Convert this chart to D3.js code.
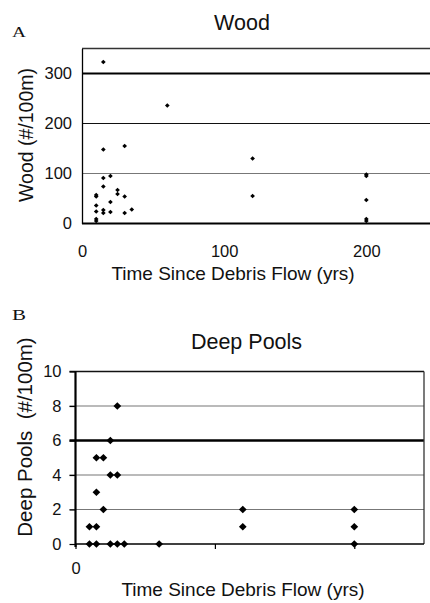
<!DOCTYPE html>
<html>
<head>
<meta charset="utf-8">
<script src="https://cdn.jsdelivr.net/npm/d3@7"></script>
<style>
  html, body { margin: 0; padding: 0; background: #fff; }
  svg { display: block; font-family: "Liberation Sans", Arial, sans-serif; }
</style>
</head>
<body>
<svg id="chart" width="430" height="603"></svg>
<script>
// ---- Panel A: Wood ----
const woodYears  = [15, 60, 15, 30, 120, 15, 20, 200, 200, 15, 10, 10, 25, 25, 30, 120, 200, 20, 10, 10, 15, 15, 20, 30, 35, 10, 10, 200, 200];
const woodCounts = [323, 236, 148, 155, 130, 91, 95, 98, 95, 74, 57, 54, 67, 59, 54, 55, 47, 43, 36, 24, 27, 21, 23, 21, 28, 9, 5, 9, 5];
const woodYTicks = [0, 100, 200, 300];
const woodXTicks = [0, 100, 200];

// ---- Panel B: Deep Pools ----
const poolYears  = [10, 15, 10, 15, 25, 30, 35, 60, 15, 15, 20, 20, 25, 25, 30, 30, 120, 120, 200, 200, 200];
const poolCounts = [1, 1, 0, 0, 0, 0, 0, 0, 3, 5, 5, 2, 6, 4, 4, 8, 2, 1, 2, 1, 0];
const poolYTicks = [0, 2, 4, 6, 8, 10];
const poolXTicks = [0, 100, 200];
const poolXLabels = ["0"];

const svg = d3.select("#chart");

function diamond(size) {
  return d3.symbol().type(d3.symbolSquare).size(size)();
}

// ===== Panel A =====
{
  const x = d3.scaleLinear().domain([0, 250]).range([82, 437.4]);
  const y = d3.scaleLinear().domain([0, 350]).range([223.5, 48.5]);
  const g = svg.append("g");

  const gridStyle = {100: ["#777", 1], 200: ["#111", 1.2], 300: ["#000", 2.2]};
  woodYTicks.filter(v => v > 0).forEach(v => {
    g.append("line").attr("x1", x(0)).attr("x2", 430)
      .attr("y1", y(v)).attr("y2", y(v))
      .attr("stroke", gridStyle[v][0]).attr("stroke-width", gridStyle[v][1]);
  });
  g.append("line").attr("x1", x(0)).attr("x2", 430)
    .attr("y1", y(350)).attr("y2", y(350))
    .attr("stroke", "#333").attr("stroke-width", 1.6);

  const yAxis = d3.axisLeft(y).tickValues(woodYTicks).tickSize(0).tickPadding(10);
  const ya = g.append("g").attr("transform", `translate(${x(0)},0)`).call(yAxis);
  ya.select(".domain").attr("stroke", "#000").attr("stroke-width", 1.3);
  ya.selectAll("text").attr("font-size", "16.5px").attr("fill", "#111")
    .attr("font-family", "Liberation Sans, Arial, sans-serif");

  const xAxis = d3.axisBottom(x).tickValues(woodXTicks).tickSize(0).tickPadding(22);
  const xa = g.append("g").attr("transform", `translate(0,${y(0)})`).call(xAxis);
  xa.select(".domain").remove();
  g.append("line").attr("x1", x(0)).attr("x2", 430)
    .attr("y1", y(0)).attr("y2", y(0))
    .attr("stroke", "#000").attr("stroke-width", 1.8);
  xa.selectAll("text").attr("font-size", "16.5px").attr("fill", "#111")
    .attr("font-family", "Liberation Sans, Arial, sans-serif");

  g.append("g").selectAll("path")
    .data(woodYears.map((d, i) => [d, woodCounts[i]]))
    .join("path")
    .attr("d", diamond(11))
    .attr("transform", d => `translate(${x(d[0])},${y(d[1])}) rotate(45)`)
    .attr("fill", "#000");

  svg.append("text").attr("x", 242).attr("y", 30).attr("text-anchor", "middle")
    .attr("font-size", "21.5px").attr("fill", "#111").text("Wood");
  svg.append("text").attr("x", 233).attr("y", 280).attr("text-anchor", "middle")
    .attr("font-size", "19px").attr("fill", "#111").text("Time Since Debris Flow (yrs)");
  svg.append("text").attr("transform", "translate(33,135) rotate(-90)")
    .attr("text-anchor", "middle").attr("font-size", "19.5px").attr("fill", "#111")
    .text("Wood (#/100m)");
  svg.append("text").attr("x", 12).attr("y", 37)
    .attr("font-family", "Liberation Serif, serif").attr("font-size", "15px")
    .attr("textLength", 14).attr("lengthAdjust", "spacingAndGlyphs")
    .attr("fill", "#111").text("A");
}

// ===== Panel B =====
{
  const x = d3.scaleLinear().domain([0, 250]).range([75.5, 424]);
  const y = d3.scaleLinear().domain([0, 10]).range([544, 371.5]);
  const g = svg.append("g");

  const gridStyle = {2: ["#777", 1.2], 4: ["#777", 1.2], 6: ["#000", 2.4], 8: ["#777", 1.2], 10: ["#111", 1.3]};
  poolYTicks.filter(v => v > 0).forEach(v => {
    g.append("line").attr("x1", x(0) - 6).attr("x2", x(250))
      .attr("y1", y(v)).attr("y2", y(v))
      .attr("stroke", gridStyle[v][0]).attr("stroke-width", gridStyle[v][1]);
  });
  g.append("line").attr("x1", x(250)).attr("x2", x(250))
    .attr("y1", y(10)).attr("y2", y(0))
    .attr("stroke", "#333").attr("stroke-width", 1.3);

  const yAxis = d3.axisLeft(y).tickValues(poolYTicks).tickSize(6).tickPadding(8);
  const ya = g.append("g").attr("transform", `translate(${x(0)},0)`).call(yAxis);
  ya.select(".domain").remove();
  ya.selectAll(".tick line").attr("stroke", "#000").attr("stroke-width", 1.2);
  ya.selectAll("text").attr("font-size", "16.5px").attr("fill", "#111")
    .attr("font-family", "Liberation Sans, Arial, sans-serif");
  g.append("line").attr("x1", x(0)).attr("x2", x(0))
    .attr("y1", y(10)).attr("y2", y(0) + 3)
    .attr("stroke", "#000").attr("stroke-width", 2.2);

  const xAxis = d3.axisBottom(x).tickValues(poolXTicks).tickSize(5).tickPadding(13)
    .tickFormat((d, i) => poolXLabels[i] || "");
  const xa = g.append("g").attr("transform", `translate(0,${y(0)})`).call(xAxis);
  xa.select(".domain").remove();
  xa.selectAll(".tick line").attr("stroke", "#000").attr("stroke-width", 1.2);
  xa.selectAll("text").attr("font-size", "16.5px").attr("fill", "#111")
    .attr("font-family", "Liberation Sans, Arial, sans-serif");
  g.append("line").attr("x1", x(0)).attr("x2", x(250))
    .attr("y1", y(0)).attr("y2", y(0))
    .attr("stroke", "#000").attr("stroke-width", 1.6);

  g.append("g").selectAll("path")
    .data(poolYears.map((d, i) => [d, poolCounts[i]]))
    .join("path")
    .attr("d", diamond(30))
    .attr("transform", d => `translate(${x(d[0])},${y(d[1])}) rotate(45)`)
    .attr("fill", "#000");

  svg.append("text").attr("x", 246.5).attr("y", 349).attr("text-anchor", "middle")
    .attr("font-size", "21.5px").attr("fill", "#111").text("Deep Pools");
  svg.append("text").attr("x", 243).attr("y", 596).attr("text-anchor", "middle")
    .attr("font-size", "19px").attr("fill", "#111").text("Time Since Debris Flow (yrs)");
  svg.append("text").attr("transform", "translate(32,437) rotate(-90)")
    .attr("text-anchor", "middle").attr("font-size", "20.5px").attr("fill", "#111")
    .attr("xml:space", "preserve").style("white-space", "pre")
    .text("Deep Pools  (#/100m)");
  svg.append("text").attr("x", 12).attr("y", 320)
    .attr("font-family", "Liberation Serif, serif").attr("font-size", "15px")
    .attr("textLength", 14).attr("lengthAdjust", "spacingAndGlyphs")
    .attr("fill", "#111").text("B");
}
</script>
</body>
</html>
